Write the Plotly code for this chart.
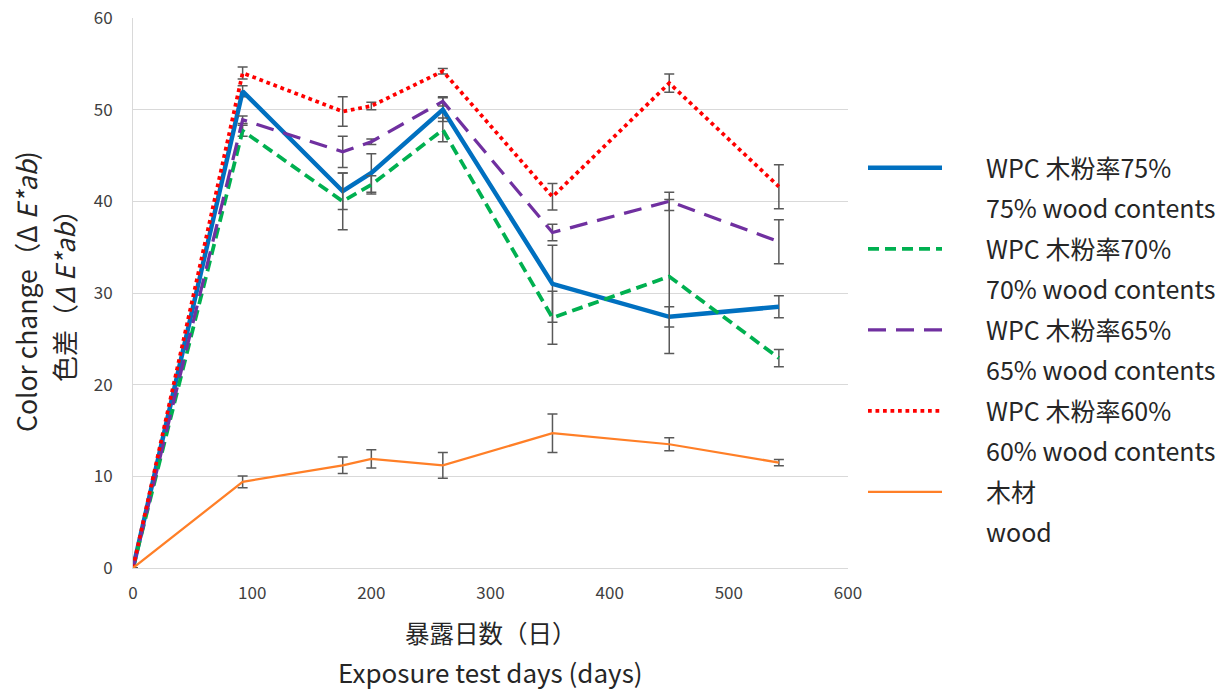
import plotly.graph_objects as go

# Exposure days and colour change (ΔE*ab) with standard deviations
days = [0, 92, 176, 200, 260, 352, 450, 542]

wpc75 = [0, 52.0, 41.1, 43.1, 50.0, 31.0, 27.4, 28.5]
wpc75_err = [None, 0.6, 2.0, 2.1, 1.3, 4.2, 1.1, 1.2]

wpc70 = [0, 47.7, 40.0, 41.8, 47.8, 27.3, 31.8, 22.9]
wpc70_err = [None, 0.6, 3.1, 1.0, 1.3, 2.9, 8.4, 0.95]

wpc65 = [0, 48.9, 45.4, 46.5, 50.9, 36.6, 40.0, 35.6]
wpc65_err = [None, 0.4, 1.7, 0.3, 0.5, 0.9, 1.0, 2.4]

wpc60 = [0, 54.0, 49.8, 50.4, 54.2, 40.5, 52.9, 41.6]
wpc60_err = [None, 0.65, 1.6, 0.4, 0.3, 1.45, 1.0, 2.4]

wood = [0, 9.4, 11.2, 11.9, 11.2, 14.7, 13.5, 11.5]
wood_err = [None, 0.65, 0.9, 1.0, 1.4, 2.1, 0.7, 0.35]

# Legend labels: Japanese line and English line for each series
names_jp = ["WPC 木粉率75%", "WPC 木粉率70%", "WPC 木粉率65%", "WPC 木粉率60%", "木材"]
names_en = ["75% wood contents", "70% wood contents", "65% wood contents",
            "60% wood contents", "wood"]

FONT = "Noto Sans CJK JP, Noto Sans, sans-serif"
TXT = "#262626"
ERR = "#595959"
PAD = "\u2002\u2002\u2002\u200a"  # gap between legend line sample and label

series = [
    (wpc75, wpc75_err, dict(color="#0070C0", width=4.5, dash="solid")),
    (wpc70, wpc70_err, dict(color="#00B050", width=3.75, dash="11px,6px")),
    (wpc65, wpc65_err, dict(color="#7030A0", width=3.25, dash="18px,10px")),
    (wpc60, wpc60_err, dict(color="#FF0000", width=3.75, dash="dot")),
    (wood, wood_err, dict(color="#FF7F27", width=2.25, dash="solid")),
]

fig = go.Figure()
for i, (vals, errs, line) in enumerate(series):
    fig.add_trace(go.Scatter(
        x=days, y=vals, name=PAD + names_jp[i], mode="lines", line=line,
        legendgroup=f"s{i}a",
        error_y=dict(type="data", array=errs, visible=True,
                     color=ERR, thickness=1.5, width=5),
    ))
    # second legend row (English label) without a line sample
    fig.add_trace(go.Scatter(
        x=[None], y=[None], name=PAD + names_en[i], mode="lines",
        line=dict(color="rgba(0,0,0,0)", width=1),
        legendgroup=f"s{i}b", hoverinfo="skip",
    ))

fig.update_layout(
    width=1223, height=689,
    margin=dict(l=133, r=375, t=18, b=121, autoexpand=False),
    paper_bgcolor="white", plot_bgcolor="white",
    font=dict(family=FONT, color=TXT),
    showlegend=True,
    legend=dict(
        xref="container", yref="container",
        x=863 / 1223, xanchor="left",
        y=1 - 145 / 689, yanchor="top",
        maxheight=520,
        font=dict(size=25, family=FONT, color=TXT),
        itemwidth=74, tracegroupgap=5,
        bgcolor="rgba(0,0,0,0)", itemclick=False, itemdoubleclick=False,
    ),
    xaxis=dict(
        range=[0, 600], dtick=100, showgrid=False, zeroline=False,
        showline=True, linecolor="#D9D9D9", linewidth=1,
        ticks="", tickfont=dict(size=17, color="#404040"),
        ticklabelstandoff=10,
    ),
    yaxis=dict(
        range=[0, 60], dtick=10, showgrid=True, gridcolor="#D9D9D9",
        gridwidth=1, zeroline=False,
        showline=True, linecolor="#D9D9D9", linewidth=1,
        ticks="", tickfont=dict(size=17, color="#404040"),
        ticklabelstandoff=16,
    ),
    annotations=[
        dict(text="暴露日数（日）", xref="paper", yref="paper",
             x=0.5, y=(568 - 632) / 550, xanchor="center", yanchor="middle",
             showarrow=False, font=dict(size=24.5, color=TXT)),
        dict(text="Exposure test days (days)", xref="paper", yref="paper",
             x=0.5, y=(568 - 671) / 550, xanchor="center", yanchor="middle",
             showarrow=False, font=dict(size=26, color=TXT)),
        dict(text="Color change（Δ <i>E*ab</i>)", xref="paper", yref="paper",
             x=(25 - 133) / 715, y=(568 - 292) / 550, xanchor="center", yanchor="middle",
             textangle=-90, showarrow=False, font=dict(size=26.5, color=TXT)),
        dict(text="色差（<i>Δ E*ab</i>）", xref="paper", yref="paper",
             x=(63 - 133) / 715, y=(568 - 290) / 550, xanchor="center", yanchor="middle",
             textangle=-90, showarrow=False, font=dict(size=26, color=TXT)),
    ],
)

fig.write_html("out.html")
